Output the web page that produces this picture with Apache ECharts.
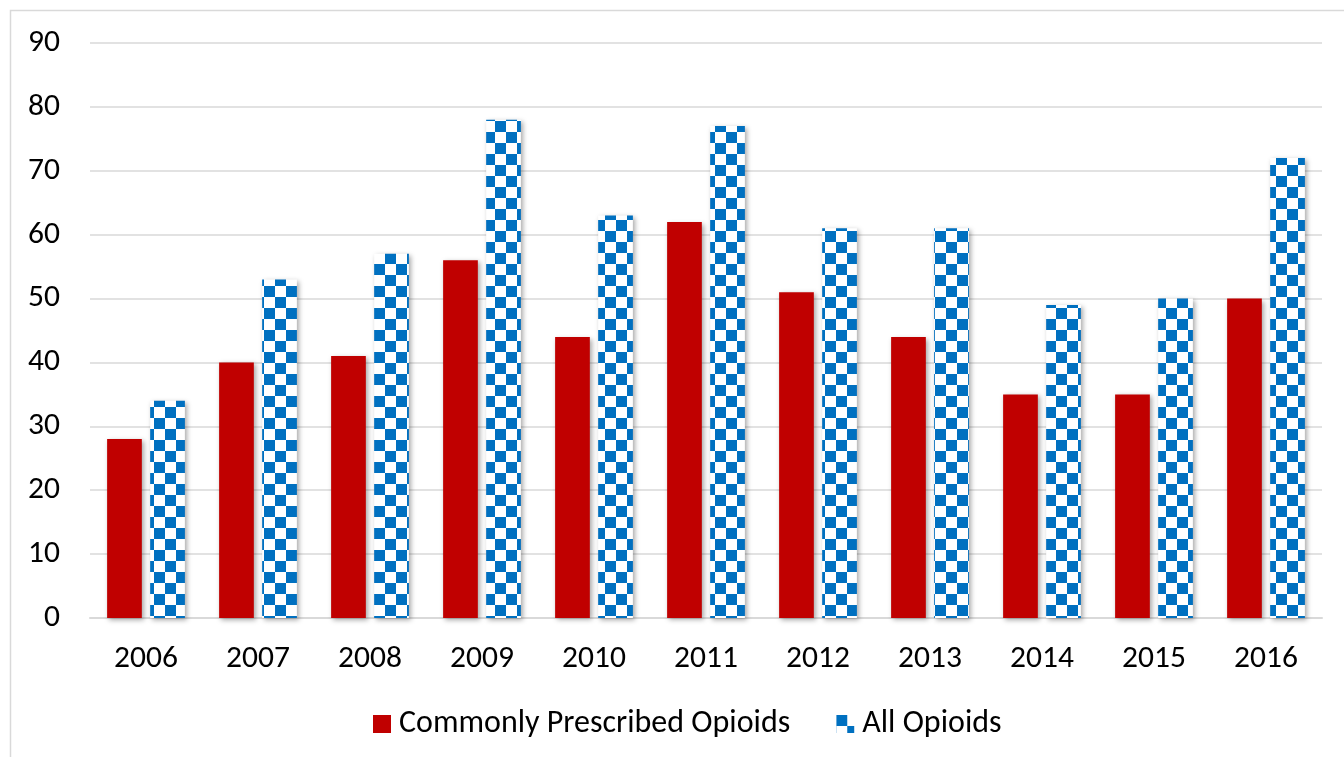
<!DOCTYPE html>
<html><head><meta charset="utf-8">
<script src="https://cdn.jsdelivr.net/npm/echarts@6/dist/echarts.min.js"></script>
<style>html,body{margin:0;padding:0;background:#fff}#c{width:1344px;height:757px}</style>
</head><body><div id="c"></div>
<script>
const categories = ['2006','2007','2008','2009','2010','2011','2012','2013','2014','2015','2016'];
const commonlyPrescribed = [28,40,41,56,44,62,51,44,35,35,50];
const allOpioids = [34,53,57,78,63,77,61,61,49,50,72];
const seriesNames = ['Commonly Prescribed Opioids','All Opioids'];

const pc = document.createElement('canvas');
pc.width = 22; pc.height = 22;
const g = pc.getContext('2d');
g.fillStyle = '#ffffff'; g.fillRect(0,0,22,22);
g.fillStyle = '#0070C0'; g.fillRect(0,0,11,11); g.fillRect(11,11,11,11);

const chart = echarts.init(document.getElementById('c'), null, {renderer:'canvas'});
const font = 'Carlito, "Noto Sans", sans-serif';
const shadow = {shadowBlur:5, shadowOffsetX:2, shadowOffsetY:2, shadowColor:'rgba(0,0,0,0.35)'};
chart.setOption({
  animation:false,
  backgroundColor:'#fff',
  graphic:[{type:'rect',shape:{x:10.5,y:10.5,width:1400,height:800},style:{fill:'none',stroke:'#d9d9d9',lineWidth:1.5},silent:true,z:-1}],
  grid:{left:90,right:22,top:43,bottom:139},
  legend:{bottom:12,left:368,itemWidth:18,itemHeight:18,itemGap:46,
    textStyle:{fontSize:32,fontFamily:font,color:'#000',padding:[0,0,0,3]},
    data:[{name:seriesNames[0],icon:'rect'},{name:seriesNames[1],icon:'rect'}]},
  xAxis:{type:'category',data:categories,
    axisLine:{lineStyle:{color:'#d9d9d9',width:2}},axisTick:{show:false},
    axisLabel:{fontSize:31.5,fontFamily:font,color:'#000',margin:25}},
  yAxis:{type:'value',min:0,max:90,interval:10,
    axisLine:{show:false},axisTick:{show:false},
    splitLine:{lineStyle:{color:'#d9d9d9',width:1.5}},
    axisLabel:{fontSize:31.5,fontFamily:font,color:'#000',margin:30}},
  series:[
    {name:seriesNames[0],type:'bar',data:commonlyPrescribed,barWidth:'31%',barGap:'24%',
      itemStyle:Object.assign({color:'#C00000'},shadow)},
    {name:seriesNames[1],type:'bar',data:allOpioids,barWidth:'31%',
      itemStyle:Object.assign({color:{image:pc,repeat:'repeat'}},shadow)}
  ]
});
</script></body></html>
